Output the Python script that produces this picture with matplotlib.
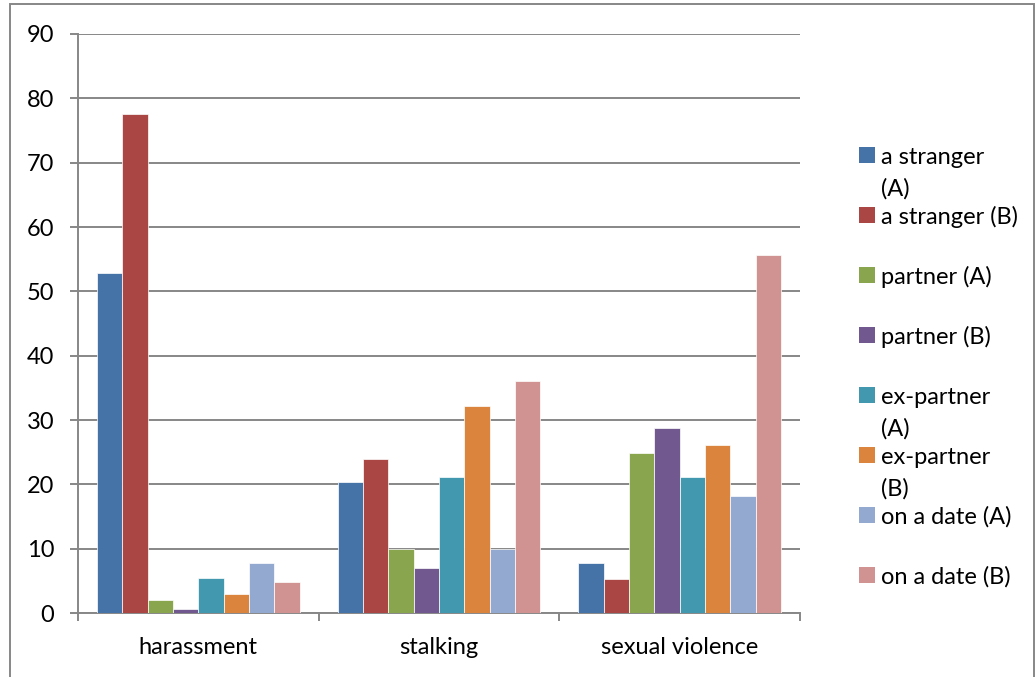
import matplotlib.pyplot as plt
import numpy as np
from matplotlib.patches import Rectangle

plt.rcParams['font.family'] = ['Lato', 'DejaVu Sans']

# data
categories = ['harassment', 'stalking', 'sexual violence']
series_names = ['a stranger\n(A)', 'a stranger (B)', 'partner (A)', 'partner (B)',
                'ex-partner\n(A)', 'ex-partner\n(B)', 'on a date (A)', 'on a date (B)']
values = [
    [52.9, 20.4, 7.7],    # a stranger (A)
    [77.6, 23.9, 5.3],    # a stranger (B)
    [2.0, 10.0, 24.8],    # partner (A)
    [0.6, 7.0, 28.8],     # partner (B)
    [5.5, 21.2, 21.1],    # ex-partner (A)
    [3.0, 32.1, 26.1],    # ex-partner (B)
    [7.7, 10.0, 18.2],    # on a date (A)
    [4.8, 36.0, 55.6],    # on a date (B)
]
colors = ['#4572A7', '#AA4643', '#89A54E', '#71588F',
          '#4198AF', '#DB843D', '#93A9CF', '#D19392']
y_ticks = list(range(0, 91, 10))

W, H = 1035, 677
fig = plt.figure(figsize=(W / 100, H / 100), dpi=100)
ax = fig.add_axes([78 / W, 1 - 613 / H, (800 - 78) / W, (613 - 34) / H])

grey = '#878787'
fs = 17
n = len(series_names)
group_w = 0.842
bar_w = group_w / n
x = np.arange(len(categories))

ax.set_axisbelow(True)
for i in range(n):
    offs = -group_w / 2 + bar_w * (i + 0.5)
    ax.bar(x + offs, values[i], bar_w, color=colors[i],
           edgecolor='white', linewidth=0.5, zorder=3)

ax.set_xlim(-0.5, len(categories) - 0.5)
ax.set_ylim(0, 90)
ax.set_yticks(y_ticks)
ax.yaxis.grid(True, color=grey, linewidth=1.4)
ax.set_xticks(x)
ax.set_xticklabels(categories, fontsize=fs)
ax.set_xticks(np.arange(len(categories) + 1) - 0.5, minor=True)
ax.tick_params(axis='x', which='major', length=0, pad=17)
ax.tick_params(axis='x', which='minor', length=6, width=1.4, color=grey)
ax.tick_params(axis='y', length=6, width=1.4, color=grey, pad=11, labelsize=fs)

for s in ['top', 'right']:
    ax.spines[s].set_visible(False)
for s in ['left', 'bottom']:
    ax.spines[s].set_color(grey)
    ax.spines[s].set_linewidth(1.4)

# legend drawn by hand: fixed slot pitch, wrapped labels run below their slot
px = 1 / W
py = 1 / H
slot0, pitch, line_h = 155, 60, 32
for i, (name, c) in enumerate(zip(series_names, colors)):
    yc = slot0 + i * pitch
    fig.add_artist(Rectangle((859 * px, 1 - (yc + 8) * py), 16 * px, 16 * py,
                             transform=fig.transFigure, facecolor=c,
                             edgecolor='none'))
    for k, line in enumerate(name.split('\n')):
        fig.text(881 * px, 1 - (yc + k * line_h) * py, line, fontsize=fs,
                 va='center_baseline', ha='left')

# chart frame
fig.add_artist(Rectangle((9.5 * px, -0.05), (1034 - 9.5) * px, 1.05 - 4.5 * py,
                         transform=fig.transFigure, facecolor='none',
                         edgecolor=grey, linewidth=1.4))

fig.savefig('out.png', dpi=100)
